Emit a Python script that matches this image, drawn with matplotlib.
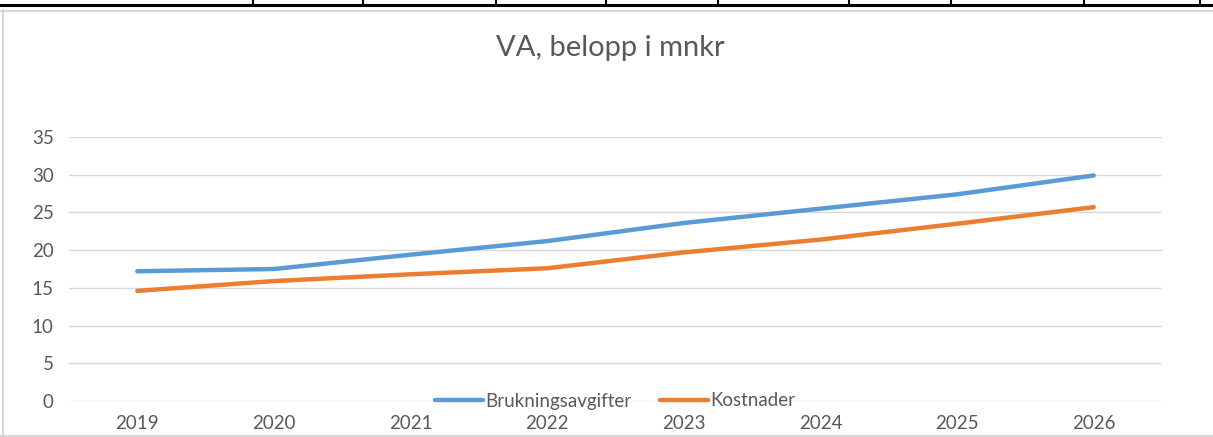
import matplotlib.pyplot as plt
from matplotlib.lines import Line2D

years = ['2019', '2020', '2021', '2022', '2023', '2024', '2025', '2026']
brukningsavgifter = [17.2, 17.5, 19.4, 21.2, 23.6, 25.5, 27.4, 29.9]
kostnader = [14.6, 15.9, 16.8, 17.6, 19.7, 21.4, 23.5, 25.7]
yticks = [0, 5, 10, 15, 20, 25, 30, 35]

W, H = 1213, 437
plt.rcParams['font.family'] = ['Lato', 'DejaVu Sans']
text_col = '#595959'
grid_col = '#d9d9d9'
fs = 13.5

fig = plt.figure(figsize=(W / 100, H / 100), dpi=100)

def px(x, y):
    return x / W, 1 - y / H

# spreadsheet bits around the chart
fig.add_artist(Line2D([0, 1], [1 - 5 / H] * 2, color='black', lw=2.2))
fig.add_artist(Line2D([0, 1], [1 - 10.5 / H] * 2, color='#d0d0d0', lw=1.2))
for xv in [253, 363, 496, 606, 718, 849, 951, 1084, 1200]:
    fig.add_artist(Line2D([xv / W] * 2, [1 - 5 / H, 1], color='black', lw=1.5))
fig.add_artist(Line2D([3 / W] * 2, [0, 1 - 10 / H], color='#d0d0d0', lw=1.2))
fig.add_artist(Line2D([0, 1], [0.6 / H] * 2, color='#d0d0d0', lw=1.2))

x0, x1 = 69, 1162
ytop, ybot = 137, 401
ax = fig.add_axes([x0 / W, 1 - ybot / H, (x1 - x0) / W, (ybot - ytop) / H])

xs = list(range(len(years)))
l1, = ax.plot(xs, brukningsavgifter, color='#5B9BD5', lw=3.2,
              solid_capstyle='round', solid_joinstyle='round')
l2, = ax.plot(xs, kostnader, color='#ED7D31', lw=3.2,
              solid_capstyle='round', solid_joinstyle='round')

ax.set_xlim(-0.5, len(years) - 0.5)
ax.set_ylim(0, 35)
ax.set_yticks(yticks)
ax.set_xticks(xs)
ax.set_xticklabels(years)
ax.grid(axis='y', color=grid_col, lw=1)
ax.set_axisbelow(True)
for s in ax.spines.values():
    s.set_visible(False)
ax.tick_params(length=0, colors=text_col, labelsize=fs)
ax.tick_params(axis='y', pad=11)
ax.tick_params(axis='x', pad=10)

fig.text(*px(610, 48), 'VA, belopp i mnkr', ha='center', va='center',
         fontsize=21, color=text_col)

leg = fig.legend([l1, l2], ['Brukningsavgifter', 'Kostnader'],
                 loc='center', bbox_to_anchor=px(615, 401), ncol=2,
                 frameon=False, fontsize=fs, handlelength=2.6,
                 handletextpad=0.1, columnspacing=1.5, borderpad=0)
for t in leg.get_texts():
    t.set_color(text_col)

fig.savefig('out.png', dpi=100)
